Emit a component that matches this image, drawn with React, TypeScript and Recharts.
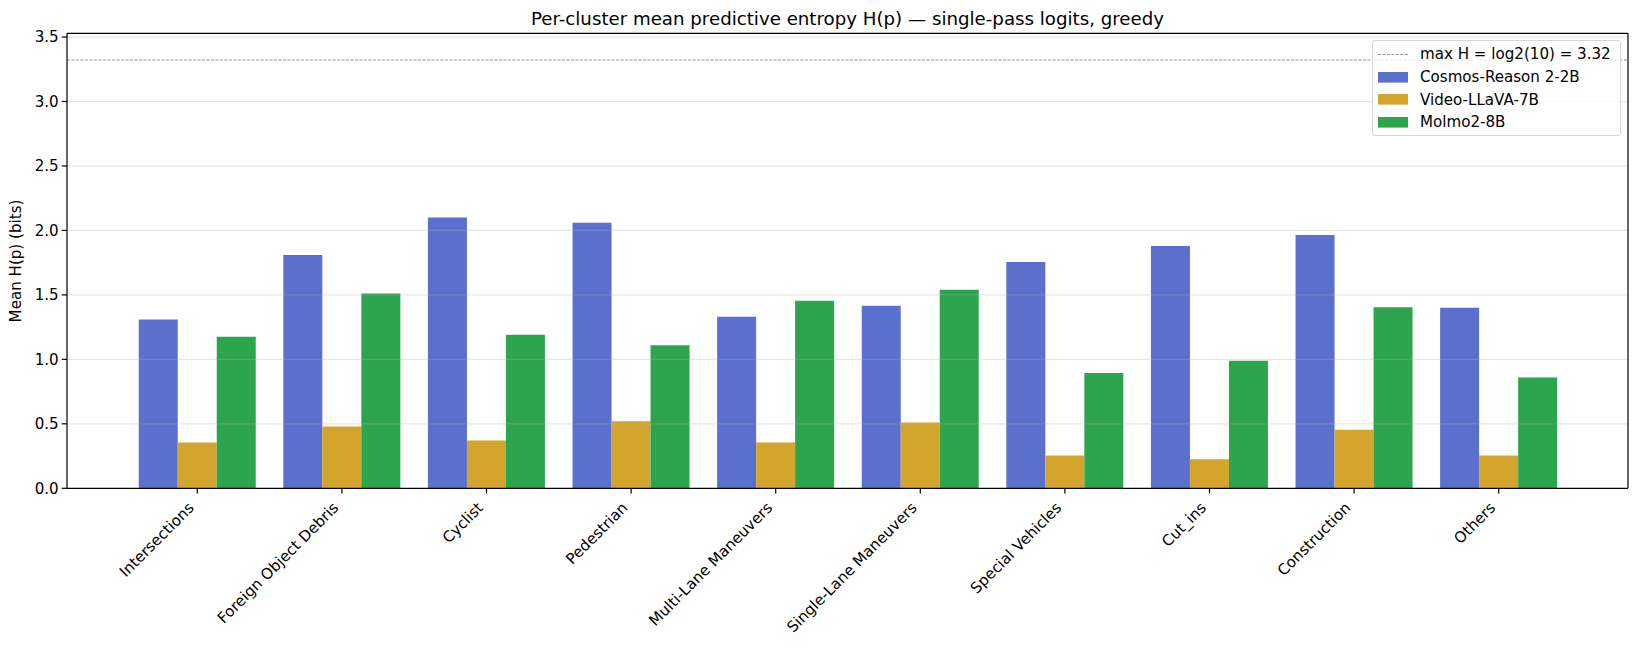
import {
    Bar,
    BarChart,
    ReferenceLine,
    XAxis,
    YAxis,
} from "recharts"

const categories = [
    "Intersections",
    "Foreign Object Debris",
    "Cyclist",
    "Pedestrian",
    "Multi-Lane Maneuvers",
    "Single-Lane Maneuvers",
    "Special Vehicles",
    "Cut_ins",
    "Construction",
    "Others",
];

const cosmosValues = [1.31, 1.81, 2.10, 2.06, 1.33, 1.415, 1.755, 1.88, 1.965, 1.40];
const videoLlavaValues = [0.355, 0.48, 0.37, 0.52, 0.355, 0.51, 0.255, 0.225, 0.455, 0.255];
const molmoValues = [1.175, 1.51, 1.19, 1.11, 1.455, 1.54, 0.895, 0.99, 1.405, 0.86];

const yTicks = [0, 0.5, 1.0, 1.5, 2.0, 2.5, 3.0, 3.5];
const maxEntropy = 3.3219;

const seriesNames = ["Cosmos-Reason 2-2B", "Video-LLaVA-7B", "Molmo2-8B"];
const seriesColors = ["#5b6fcd", "#d4a52d", "#2da44e"];

const chartData = categories.map((name, i) => ({
    name,
    cosmos: cosmosValues[i],
    videoLlava: videoLlavaValues[i],
    molmo: molmoValues[i],
}));

const FONT = "'DejaVu Sans', sans-serif";
const FS = 15.1;

function XTick({ x, y, payload }: any) {
    return (
        <g transform={`translate(${x - 2.5},${y + 13.2})`}>
            <text
                x={0}
                y={0}
                textAnchor="end"
                transform="rotate(-45)"
                fontSize={FS}
                fontFamily={FONT}
                fill="#000"
            >
                {payload.value}
            </text>
        </g>
    )
}

function LegendBox() {
    const rows = [
        { label: "max H = log2(10) = 3.32", kind: "line", color: "#8c8c8c" },
        ...seriesNames.map((label, i) => ({ label, kind: "patch", color: seriesColors[i] })),
    ];
    return (
        <div
            style={{
                position: "absolute",
                top: 40,
                left: 1372,
                width: 249,
                boxSizing: "border-box",
                border: "1px solid #d6d6d6",
                borderRadius: 3,
                background: "rgba(255,255,255,0.8)",
                padding: "2px 6px 1px 5px",
                fontFamily: FONT,
                fontSize: FS,
                color: "#000",
            }}
        >
            {rows.map((r) => (
                <div key={r.label} style={{ display: "flex", alignItems: "center", height: 22.7 }}>
                    <svg width={30} height={11} style={{ marginRight: 12, flex: "none" }}>
                        {r.kind === "line" ? (
                            <line x1={0} y1={5.5} x2={30} y2={5.5} stroke={r.color} strokeWidth={0.9} strokeDasharray="3 1.5"/>
                        ) : (
                            <rect x={0} y={0} width={30} height={10.6} fill={r.color}/>
                        )}
                    </svg>
                    <span style={{ whiteSpace: "nowrap" }}>{r.label}</span>
                </div>
            ))}
        </div>
    )
}

export default function App() {
    return (
        <div style={{ position: "relative", width: 1638, height: 647, background: "#fff" }}>
            <style>{"body{margin:0}"}</style>
            <div
                style={{
                    position: "absolute",
                    left: 67,
                    width: 1561,
                    top: 8,
                    lineHeight: "22px",
                    textAlign: "center",
                    fontFamily: FONT,
                    fontSize: 18.2,
                    color: "#000",
                }}
            >
                Per-cluster mean predictive entropy H(p) — single-pass logits, greedy
            </div>
            <BarChart
                width={1638}
                height={647}
                data={chartData}
                margin={{ top: 32.3, right: 9, left: 0, bottom: 0 }}
                barCategoryGap="9.5%"
                barGap={0}
            >
                <XAxis
                    dataKey="name"
                    padding={{ left: 58, right: 57 }}
                    height={158.7}
                    tickSize={5.3}
                    tick={<XTick/>}
                    interval={0}
                    axisLine={{ stroke: "#000", strokeWidth: 1.2 }}
                    tickLine={{ stroke: "#000", strokeWidth: 1.2 }}
                />
                <XAxis
                    xAxisId="top"
                    orientation="top"
                    dataKey="name"
                    height={1}
                    tick={false}
                    tickLine={false}
                    axisLine={{ stroke: "#000", strokeWidth: 1.2 }}
                    padding={{ left: 58, right: 57 }}
                />
                <YAxis
                    domain={[0, 3.529]}
                    ticks={yTicks}
                    width={67}
                    tickSize={5.3}
                    tickMargin={3}
                    allowDataOverflow
                    tickFormatter={(v) => v.toFixed(1)}
                    tick={{ fontSize: FS, fontFamily: FONT, fill: "#000" }}
                    axisLine={{ stroke: "#000", strokeWidth: 1.2 }}
                    tickLine={{ stroke: "#000", strokeWidth: 1.2 }}
                    label={{
                        content: () => (
                            <text
                                x={16}
                                y={261}
                                transform="rotate(-90 16 261)"
                                textAnchor="middle"
                                dominantBaseline="central"
                                fontSize={FS}
                                fontFamily={FONT}
                                fill="#000"
                            >
                                Mean H(p) (bits)
                            </text>
                        ),
                    }}
                />
                <YAxis
                    yAxisId="right"
                    orientation="right"
                    domain={[0, 3.529]}
                    width={1}
                    tick={false}
                    tickLine={false}
                    axisLine={{ stroke: "#000", strokeWidth: 1.2 }}
                />
                <Bar dataKey="cosmos" name={seriesNames[0]} fill={seriesColors[0]} isAnimationActive={false}/>
                <Bar dataKey="videoLlava" name={seriesNames[1]} fill={seriesColors[1]} isAnimationActive={false}/>
                <Bar dataKey="molmo" name={seriesNames[2]} fill={seriesColors[2]} isAnimationActive={false}/>
                {yTicks.slice(1).map((t) => (
                    <ReferenceLine key={t} y={t} stroke="#b0b0b0" strokeOpacity={0.3} strokeWidth={1.2}/>
                ))}
                <ReferenceLine
                    y={maxEntropy}
                    stroke="#8c8c8c"
                    strokeWidth={0.9}
                    strokeDasharray="3 1.5"
                />
            </BarChart>
            <LegendBox/>
        </div>
    )
}
